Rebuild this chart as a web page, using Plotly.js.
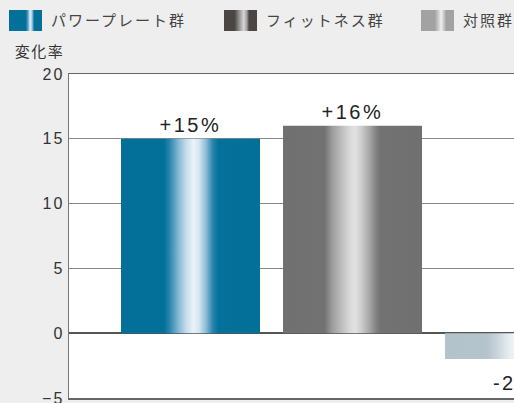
<!DOCTYPE html>
<html><head><meta charset="utf-8">
<script src="https://cdn.plot.ly/plotly-3.0.1.min.js"></script>
<style>html,body{margin:0;padding:0;overflow:hidden;background:#eeeeee;width:514px;height:403px}</style>
</head><body>
<svg width="0" height="0" style="position:absolute">
<defs>
<linearGradient id="bar0" x1="0" y1="0" x2="1" y2="0">
<stop offset="0" stop-color="#03709a"/><stop offset="0.31" stop-color="#03709a"/>
<stop offset="0.35" stop-color="#2c86ae"/><stop offset="0.42" stop-color="#8cbcd7"/>
<stop offset="0.47" stop-color="#c6ddec"/><stop offset="0.52" stop-color="#eaf2f9"/>
<stop offset="0.56" stop-color="#d6e7f2"/><stop offset="0.61" stop-color="#8fbdd6"/>
<stop offset="0.66" stop-color="#2a84ad"/><stop offset="0.70" stop-color="#05719a"/>
<stop offset="1" stop-color="#03709a"/>
</linearGradient>
<linearGradient id="bar1" x1="0" y1="0" x2="1" y2="0">
<stop offset="0" stop-color="#707070"/><stop offset="0.30" stop-color="#727272"/>
<stop offset="0.35" stop-color="#9a9a9a"/><stop offset="0.42" stop-color="#bdbdbd"/>
<stop offset="0.48" stop-color="#d8d8d8"/><stop offset="0.52" stop-color="#e2e2e2"/>
<stop offset="0.56" stop-color="#cfcfcf"/><stop offset="0.62" stop-color="#a8a8a8"/>
<stop offset="0.67" stop-color="#828282"/><stop offset="0.70" stop-color="#727272"/>
<stop offset="1" stop-color="#707070"/>
</linearGradient>
<linearGradient id="bar2" x1="0" y1="0" x2="1" y2="0">
<stop offset="0" stop-color="#b3c3cb"/><stop offset="0.30" stop-color="#b4c4cc"/>
<stop offset="0.38" stop-color="#c9d6dc"/><stop offset="0.45" stop-color="#e3eaee"/>
<stop offset="0.50" stop-color="#f2f5f7"/><stop offset="0.55" stop-color="#e3eaee"/>
<stop offset="0.62" stop-color="#c9d6dc"/><stop offset="0.70" stop-color="#b4c4cc"/>
<stop offset="1" stop-color="#b3c3cb"/>
</linearGradient>
<linearGradient id="leg0" x1="0" y1="0" x2="1" y2="0">
<stop offset="0" stop-color="#03709a"/><stop offset="0.50" stop-color="#03709a"/>
<stop offset="0.57" stop-color="#4d98c0"/><stop offset="0.64" stop-color="#e8f2fa"/>
<stop offset="0.70" stop-color="#9cc6de"/><stop offset="0.76" stop-color="#03709a"/>
<stop offset="1" stop-color="#03709a"/>
</linearGradient>
<linearGradient id="leg1" x1="0" y1="0" x2="1" y2="0">
<stop offset="0" stop-color="#4b4543"/><stop offset="0.32" stop-color="#4b4543"/>
<stop offset="0.45" stop-color="#8c8c8c"/><stop offset="0.60" stop-color="#d8d8d8"/>
<stop offset="0.70" stop-color="#9a9a9a"/><stop offset="0.76" stop-color="#4b4543"/>
<stop offset="1" stop-color="#4b4543"/>
</linearGradient>
<linearGradient id="leg2" x1="0" y1="0" x2="1" y2="0">
<stop offset="0" stop-color="#a2a2a2"/><stop offset="0.42" stop-color="#a2a2a2"/>
<stop offset="0.52" stop-color="#c8c8c8"/><stop offset="0.61" stop-color="#f0f0f0"/>
<stop offset="0.70" stop-color="#c4c4c4"/><stop offset="0.76" stop-color="#a2a2a2"/>
<stop offset="1" stop-color="#a2a2a2"/>
</linearGradient>
</defs></svg>
<div id="chart"></div>
<script>
const categories = ['パワープレート群', 'フィットネス群', '対照群'];
const values = [15, 16, -2];
const labels = ['+15%', '+16%', '-2%'];
const yTickVals = [-5, 0, 5, 10, 15, 20];
const yTitle = '変化率';

const baseColors = ['#03709a', '#707070', '#b3c3cb'];
const jpFont = '"Noto Sans CJK JP", "Noto Sans", sans-serif';
const numFont = '"Liberation Sans", Arial, sans-serif';

const traces = categories.map((c, i) => ({
  type: 'bar',
  x: [c],
  y: [values[i]],
  name: c,
  text: [labels[i]],
  textposition: 'outside',
  cliponaxis: false,
  textfont: {family: numFont, size: 20, color: '#222'},
  marker: {color: baseColors[i], line: {width: 0}},
  width: 0.858,
  hoverinfo: 'skip'
}));

const layout = {
  width: 620, height: 403,
  margin: {l: 69, r: 0, t: 74, b: 5, pad: 0},
  paper_bgcolor: '#eeeeee',
  plot_bgcolor: '#ffffff',
  barmode: 'overlay',
  showlegend: true,
  legend: {orientation: 'h', x: -0.125, xanchor: 'left', y: 1.228, yanchor: 'top',
           bgcolor: 'rgba(0,0,0,0)', font: {family: jpFont, size: 15, color: '#444'}},
  xaxis: {type: 'category', range: [-0.75, 2.651], showticklabels: false, ticks: '',
          showgrid: false, zeroline: false, showline: true, mirror: true,
          linecolor: '#666', linewidth: 1.5, fixedrange: true},
  yaxis: {range: [-5, 20], tickvals: yTickVals, ticks: '', showgrid: true,
          ticklabeloverflow: 'allow',
          gridcolor: '#8a8a8a', gridwidth: 1.2, zeroline: true, zerolinecolor: '#555',
          zerolinewidth: 2, showline: true, linecolor: '#777', linewidth: 1.5,
          tickfont: {family: numFont, size: 16, color: '#333'}, fixedrange: true},
  annotations: [{text: yTitle, xref: 'paper', yref: 'paper', x: -0.098, y: 1.074,
                 xanchor: 'left', yanchor: 'middle', showarrow: false,
                 font: {family: jpFont, size: 15, color: '#333'}}]
};

function post() {
  const gd = document.getElementById('chart');
  gd.querySelectorAll('.barlayer .trace').forEach((t, i) => {
    t.querySelectorAll('.point path').forEach(p => { p.style.fill = 'url(#bar' + i + ')'; });
    t.querySelectorAll('text.bartext').forEach(tx => {
      tx.style.letterSpacing = '2.5px';
      if (values[i] < 0) {
        tx.setAttribute('transform', (tx.getAttribute('transform') || '') + ' translate(0,10)');
      }
    });
  });
  gd.querySelectorAll('.ytick text').forEach(tx => { tx.style.letterSpacing = '2px'; });
  gd.querySelectorAll('.annotation-text').forEach(tx => { tx.style.letterSpacing = '1.5px'; });
  const sb = gd.querySelector('.legend .scrollbox');
  if (sb) sb.removeAttribute('clip-path');
  const swLeft = [9, 224, 421];
  gd.querySelectorAll('.legend .traces').forEach((g, i) => {
    const p = g.querySelector('.legendpoints path');
    const tx = g.querySelector('text.legendtext');
    if (p) {
      p.removeAttribute('transform');
      p.setAttribute('d', 'M0,-10.5h33v21h-33z');
      p.style.fill = 'url(#leg' + i + ')';
      p.style.stroke = 'none';
    }
    if (tx) tx.style.letterSpacing = '2px';
    if (p && tx) {
      const pr = p.getBoundingClientRect(), trr = tx.getBoundingClientRect();
      const cx = parseFloat(tx.getAttribute('x') || 0);
      tx.setAttribute('x', cx + 42 - (trr.left - pr.left));
    }
    const m = /translate\(\s*([-\d.]+)[ ,]+([-\d.]+)/.exec(g.getAttribute('transform') || '');
    const gx = m ? parseFloat(m[1]) : 0, gy = m ? parseFloat(m[2]) : 0;
    const r = p.getBoundingClientRect();
    g.setAttribute('transform', 'translate(' + (gx + swLeft[i] - r.left) + ',' + (gy + 10 - r.top) + ')');
  });
}

Plotly.newPlot('chart', traces, layout, {staticPlot: true, displayModeBar: false}).then(post);
</script>
</body></html>
